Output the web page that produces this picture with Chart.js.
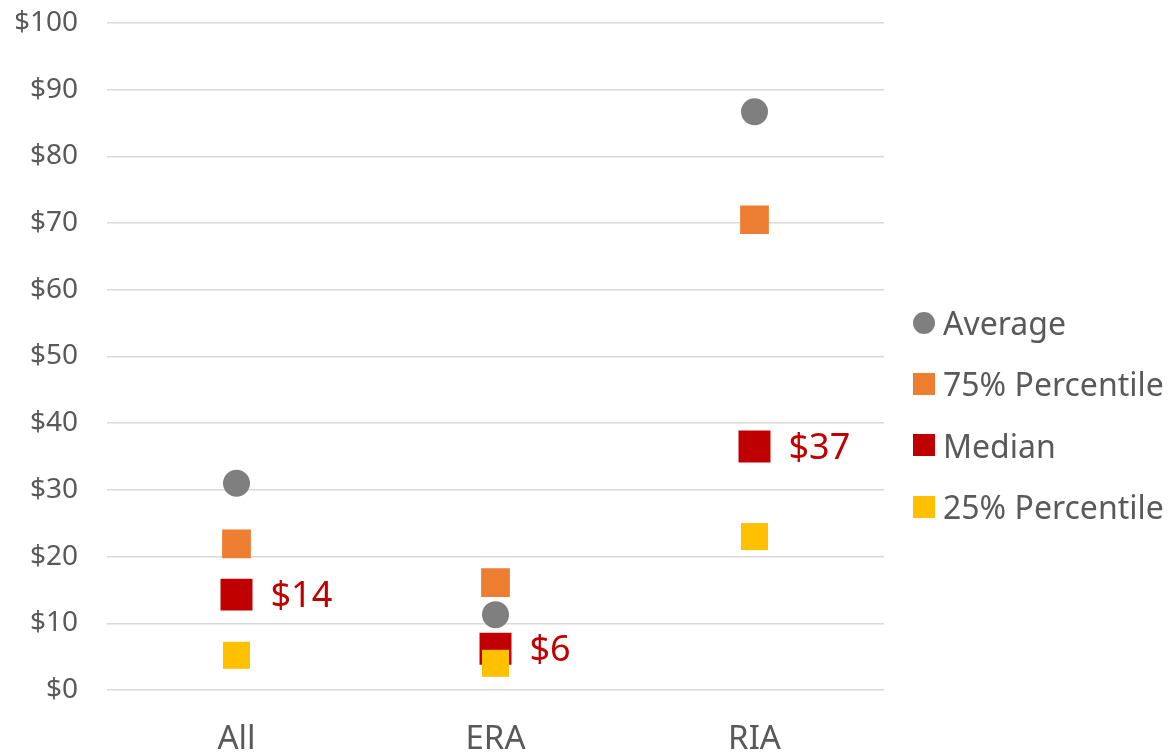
<!DOCTYPE html>
<html>
<head>
<meta charset="utf-8">
<script src="https://cdn.jsdelivr.net/npm/chart.js@4"></script>
<style>
    html, body { margin: 0; padding: 0; background: #fff; overflow: hidden; }
    #wrap { position: relative; width: 1176px; height: 760px; }
    #legend { position: absolute; left: 913px; top: 292px; font-family: "Noto Sans", sans-serif; font-size: 32px; color: #595959; }
    #legend .item { height: 61.3px; display: flex; align-items: center; white-space: nowrap; }
    #legend .mark { width: 22px; height: 22px; margin-right: 8px; flex: none; }
</style>
</head>
<body>
<div id="wrap">
    <canvas id="mychart"></canvas>
    <div id="legend"></div>
</div>
<script>
// data
const categories = ['All', 'ERA', 'RIA'];
const averageValues = [31.0, 11.3, 86.7];
const p75Values = [21.9, 16.1, 70.5];
const medianValues = [14.3, 6.2, 36.5];
const p25Values = [5.2, 4.0, 23.0];
const medianLabels = ['$14', '$6', '$37'];
const yTicks = [0, 10, 20, 30, 40, 50, 60, 70, 80, 90, 100];

const seriesNames = ['Average', '75% Percentile', 'Median', '25% Percentile'];
const seriesColors = ['#7f7f7f', '#ed7d31', '#c00000', '#ffc000'];

// tekst ved siden av median-punktene
const medianLabelPlugin = {
    id: 'medianLabels',
    afterDatasetsDraw(chart) {
        const meta = chart.getDatasetMeta(2);
        const ctx = chart.ctx;
        ctx.save();
        ctx.font = '36px "Noto Sans"';
        ctx.fillStyle = '#c00000';
        ctx.textBaseline = 'middle';
        ctx.textAlign = 'left';
        meta.data.forEach((pt, i) => {
            ctx.fillText(medianLabels[i], pt.x + 34, pt.y + 2);
        });
        ctx.restore();
    }
};

const ctx = document.getElementById('mychart');
new Chart(ctx, {
    type: 'line',
    data: {
        labels: categories,
        datasets: [
            { label: seriesNames[0], data: averageValues, pointStyle: 'circle', pointRadius: 13.5, order: 3 },
            { label: seriesNames[1], data: p75Values, pointStyle: 'rect', pointRadius: 20.3, order: 2 },
            { label: seriesNames[2], data: medianValues, pointStyle: 'rect', pointRadius: 22.6, order: 1 },
            { label: seriesNames[3], data: p25Values, pointStyle: 'rect', pointRadius: 19.1, order: 0 }
        ].map((d, i) => Object.assign(d, {
            showLine: false,
            backgroundColor: seriesColors[i],
            borderColor: seriesColors[i],
            pointBackgroundColor: seriesColors[i],
            pointBorderWidth: 0,
            pointHoverRadius: d.pointRadius
        }))
    },
    options: {
        responsive: true,
        maintainAspectRatio: false,
        animation: false,
        events: [],
        layout: { padding: { left: 16, right: 292, top: 23, bottom: 0 } },
        scales: {
            x: {
                offset: true,
                grid: { display: false, drawTicks: false },
                border: { display: false },
                afterFit(axis) { axis.height = 70; },
                ticks: {
                    color: '#595959',
                    padding: 30,
                    font: { family: 'Noto Sans', size: 33 }
                }
            },
            y: {
                min: 0,
                max: 100,
                afterBuildTicks(axis) {
                    axis.ticks = yTicks.map(v => ({ value: v }));
                },
                afterFit(axis) {
                    axis.width = 91;
                    axis.paddingTop = 0;
                    axis.paddingBottom = 0;
                },
                grid: { color: '#d9d9d9', lineWidth: 1.5, drawTicks: false },
                border: { display: false },
                ticks: {
                    color: '#595959',
                    padding: 29,
                    font: { family: 'Noto Sans', size: 28 },
                    callback: v => '$' + v
                }
            }
        },
        plugins: {
            legend: { display: false },
            tooltip: { enabled: false }
        }
    },
    plugins: [medianLabelPlugin]
});

// egen legend til høyre
const legend = document.getElementById('legend');
seriesNames.forEach((name, i) => {
    const row = document.createElement('div');
    row.className = 'item';
    const mark = document.createElement('span');
    mark.className = 'mark';
    mark.style.background = seriesColors[i];
    if (i === 0) mark.style.borderRadius = '50%';
    row.appendChild(mark);
    row.appendChild(document.createTextNode(name));
    legend.appendChild(row);
});
</script>
</body>
</html>
